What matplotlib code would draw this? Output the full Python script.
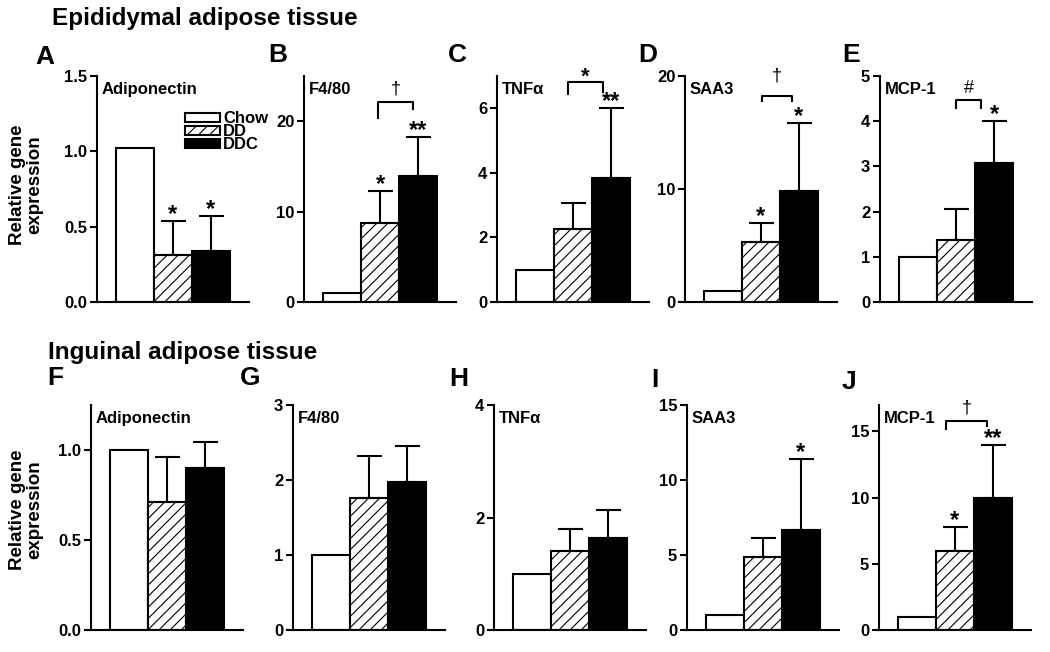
import matplotlib
matplotlib.use('Agg')
import matplotlib.pyplot as plt
import numpy as np

plt.rcParams['font.family'] = ['Liberation Sans', 'DejaVu Sans']
plt.rcParams['font.weight'] = 'bold'
plt.rcParams['hatch.linewidth'] = 0.8

groups = ['Chow', 'DD', 'DDC']
genes = ['Adiponectin', 'F4/80', 'TNFα', 'SAA3', 'MCP-1']

# epididymal (top row), mean and upward SEM for DD, DDC
epi_mean = [[1.02, 0.31, 0.34],
            [1.0, 8.7, 13.9],
            [1.0, 2.25, 3.85],
            [1.0, 5.3, 9.8],
            [1.0, 1.37, 3.07]]
epi_err = [[0.23, 0.23],
           [3.6, 4.4],
           [0.83, 2.15],
           [1.7, 6.0],
           [0.69, 0.93]]
epi_stars = [['', '*', '*'], ['', '*', '**'], ['', '', '**'], ['', '*', '*'], ['', '', '*']]

# inguinal (bottom row)
ing_mean = [[1.0, 0.71, 0.90],
            [1.0, 1.76, 1.97],
            [1.0, 1.41, 1.64],
            [1.0, 4.9, 6.7],
            [1.0, 6.0, 10.0]]
ing_err = [[0.25, 0.145],
           [0.56, 0.48],
           [0.39, 0.50],
           [1.25, 4.7],
           [1.8, 4.0]]
ing_stars = [['', '', ''], ['', '', ''], ['', '', ''], ['', '', '*'], ['', '*', '**']]

# axis limits / ticks
epi_ylim = [1.5, 25, 7, 20, 5]
epi_ticks = [[0, 0.5, 1.0, 1.5], [0, 10, 20], [0, 2, 4, 6], [0, 10, 20], [0, 1, 2, 3, 4, 5]]
ing_ylim = [1.25, 3, 4, 15, 17]
ing_ticks = [[0, 0.5, 1.0], [0, 1, 2, 3], [0, 2, 4], [0, 5, 10, 15], [0, 5, 10, 15]]

# significance brackets: (row, col, symbol, x0, x1, y, y_left, y_right, y_sym)
brackets = [(0, 1, '†', 0.95, 1.87, 22.1, 20.4, 21.3, 23.6),
            (0, 2, '*', 0.87, 1.79, 6.8, 6.45, 6.5, 6.95),
            (0, 3, '†', 1.03, 1.82, 18.2, 17.8, 17.8, 20.0),
            (0, 4, '#', 1.0, 1.66, 4.47, 4.3, 4.3, 4.72),
            (1, 4, '†', 0.76, 1.84, 15.8, 15.2, 15.4, 16.8)]

W, H = 1050, 652
fig = plt.figure(figsize=(W / 100, H / 100), dpi=100)


def px_axes(left, bottom, top, width=152):
    return fig.add_axes([left / W, 1 - bottom / H, width / W, (bottom - top) / H])


def draw_panel(ax, means, errs, ylim, ticks, gene, stars, onedec):
    x = np.arange(3)
    bars = ax.bar(x, means, width=1.0, color=['white', 'white', 'black'],
                  edgecolor='black', linewidth=1.5)
    bars[1].set_hatch('///')
    ax.errorbar(x[1:], means[1:], yerr=[np.zeros(2), errs], fmt='none',
                ecolor='black', elinewidth=1.5, capsize=9, capthick=1.5)
    for i, s in enumerate(stars):
        if s:
            top = means[i] + errs[i - 1]
            ax.annotate(s, (i, top), xytext=(0, 0), textcoords='offset points',
                        ha='center', va='baseline', fontsize=17)
    ax.set_xlim(-1, 3)
    ax.set_ylim(0, ylim)
    ax.set_yticks(ticks)
    if onedec:
        ax.set_yticklabels(['%.1f' % t for t in ticks])
    else:
        ax.set_yticklabels(['%d' % t for t in ticks])
    ax.set_xticks([])
    for sp in ['top', 'right']:
        ax.spines[sp].set_visible(False)
    for sp in ['left', 'bottom']:
        ax.spines[sp].set_linewidth(1.5)
    ax.tick_params(axis='y', direction='out', length=5, width=1.5, labelsize=12, pad=2)
    ax.text(0.03, 0.94, gene, transform=ax.transAxes, ha='left', va='center', fontsize=12)
    return bars


row_left = [[97, 304, 497, 685, 880], [91, 293, 494, 687, 879]]
row_bottom = [302, 630]
row_top = [76, 405]
letters = [['A', 'B', 'C', 'D', 'E'], ['F', 'G', 'H', 'I', 'J']]
letter_pos = [[(45, 57), (278, 55), (457, 55), (648, 55), (851, 55)],
              [(55, 378), (250, 378), (459, 379), (655, 380), (849, 382)]]

axes = [[], []]
for r in range(2):
    means = epi_mean if r == 0 else ing_mean
    errs = epi_err if r == 0 else ing_err
    stars = epi_stars if r == 0 else ing_stars
    ylims = epi_ylim if r == 0 else ing_ylim
    ticks = epi_ticks if r == 0 else ing_ticks
    for c in range(5):
        ax = px_axes(row_left[r][c], row_bottom[r], row_top[r])
        b = draw_panel(ax, means[c], errs[c], ylims[c], ticks[c], genes[c], stars[c], c == 0)
        axes[r].append(ax)
        if r == 0 and c == 0:
            legend_bars = b
        lx, ly = letter_pos[r][c]
        fig.text(lx / W, 1 - ly / H, letters[r][c], ha='center', va='center', fontsize=19)

# brackets
for r, c, sym, x0, x1, y, yl, yr, ys in brackets:
    ax = axes[r][c]
    ax.plot([x0, x0, x1, x1], [yl, y, y, yr], color='black', lw=1.5, clip_on=False)
    ax.text((x0 + x1) / 2, ys, sym, ha='center', va='center', clip_on=False,
            fontsize=16 if sym == '*' else 13, fontweight='bold' if sym == '*' else 'normal')

# legend in panel A
axes[0][0].legend(list(legend_bars), groups, loc='upper left',
                  bbox_to_anchor=(185 / W, 1 - 111 / H), bbox_transform=fig.transFigure,
                  frameon=False, fontsize=12, handlelength=2.1, handleheight=0.45,
                  handletextpad=0.2, labelspacing=-0.12, borderpad=0, borderaxespad=0)

# y labels
fig.text(26 / W, 1 - 185 / H, 'Relative gene\nexpression', rotation=90, ha='center',
         va='center', fontsize=13.5, linespacing=1.0)
fig.text(26 / W, 1 - 510 / H, 'Relative gene\nexpression', rotation=90, ha='center',
         va='center', fontsize=13.5, linespacing=1.0)

# section titles
fig.text(52 / W, 1 - 18 / H, 'Epididymal adipose tissue', ha='left', va='center', fontsize=17.5)
fig.text(48 / W, 1 - 352 / H, 'Inguinal adipose tissue', ha='left', va='center', fontsize=17.5)

fig.savefig('out.png', dpi=100)
